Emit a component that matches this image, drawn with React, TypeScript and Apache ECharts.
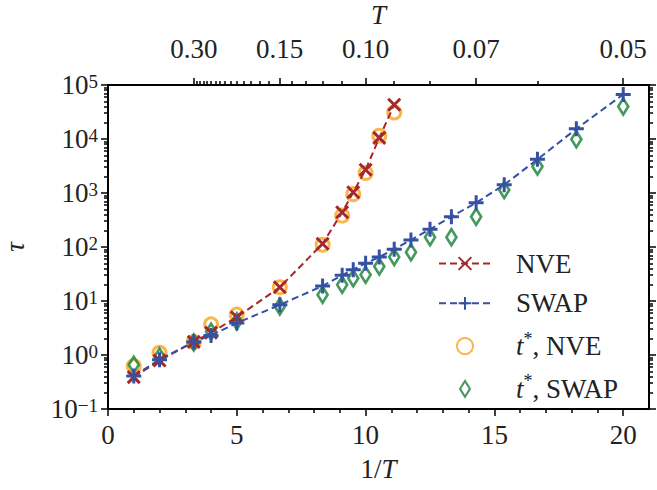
import React, { useEffect, useRef } from "react";
import * as echarts from "echarts";

// ---------- data (x = 1/T) ----------
const nveX = [1, 2, 3.33, 4, 5, 6.67, 8.33, 9.09, 9.52, 10, 10.53, 11.11];
const nveTau = [0.39, 0.79, 1.75, 2.6, 5.0, 18, 115, 440, 1030, 2700, 10500, 43000];
const nveTstar = [0.62, 1.1, 1.75, 3.7, 5.6, 18, 110, 380, 950, 2350, 11500, 31000];

const swapX = [1, 2, 3.33, 4, 5, 6.67, 8.33, 9.09, 9.52, 10, 10.53, 11.11, 11.76, 12.5, 13.33, 14.29, 15.38, 16.67, 18.18, 20];
const swapTau = [0.41, 0.82, 1.75, 2.3, 3.9, 8.5, 19, 30, 38, 50, 65, 91, 135, 213, 364, 660, 1420, 4200, 15400, 67000];
const swapTstar = [0.66, 0.94, 1.7, 2.7, 4.2, 7.9, 13, 20, 26.5, 30.5, 43.6, 65, 80, 152, 152, 364, 1140, 3090, 9900, 39800];

// ---------- ticks ----------
const xMajor = [0, 5, 10, 15, 20];
const xMinor = [1, 2, 3, 4, 6, 7, 8, 9, 11, 12, 13, 14, 16, 17, 18, 19];
const topMajorT = [0.3, 0.15, 0.1, 0.07, 0.05];
const topMinorT = [0.29, 0.28, 0.27, 0.26, 0.25, 0.24, 0.23, 0.22, 0.21, 0.2, 0.19, 0.18, 0.17, 0.16, 0.14, 0.13, 0.12, 0.11, 0.09, 0.08, 0.06];
const yMajor = [0.1, 1, 10, 100, 1000, 10000, 100000];
const yMinorMult = [2, 3, 4, 5, 6, 7, 8, 9];

const FONT = "Liberation Serif, Times New Roman, serif";
const FS = 27;
const RED = "#a5282b";
const BLUE = "#3451a3";
const ORANGE = "#f9a41e";
const GREEN = "#178035";

const X_PATH = "path://M0,0L10,10M10,0L0,10";
const PLUS_PATH = "path://M5,0L5,10M0,5L10,5";
const DIAMOND_PATH = "path://M5,0L10,8L5,16L0,8Z";

export default function App() {
  const ref = useRef<HTMLDivElement>(null);

  useEffect(() => {
    if (!ref.current) return;
    const chart = echarts.init(ref.current, undefined, { renderer: "svg" });

    const yMinor: number[] = [];
    for (let k = -1; k <= 4; k++) for (const m of yMinorMult) yMinor.push(m * Math.pow(10, k));

    const axisLine = { show: true, onZero: false, lineStyle: { color: "#000", width: 2 } };
    const tickStyle = { color: "#000", width: 1.5 };
    const labelBase = { fontFamily: FONT, fontSize: FS, color: "#222" };

    const xBase = (extra: any) => ({
      type: "value",
      min: 0,
      max: 21,
      splitLine: { show: false },
      axisLine,
      ...extra,
    });
    const yBase = (extra: any) => ({
      type: "log",
      logBase: 10,
      min: 0.1,
      max: 100000,
      splitLine: { show: false },
      axisLine,
      ...extra,
    });

    const supFmt = (v: number) => {
      const e = Math.round(Math.log10(v));
      return `{b|10}{s|${e < 0 ? "\u2212" + -e : e}}`;
    };
    const supRich = {
      b: { fontFamily: FONT, fontSize: FS, color: "#222" },
      s: { fontFamily: FONT, fontSize: 19, color: "#222", verticalAlign: "top" },
    };

    const option: any = {
      animation: false,
      backgroundColor: "#fff",
      grid: { left: 108, top: 85, width: 541, height: 324, containLabel: false, outerBoundsMode: "none" },
      xAxis: [
        xBase({
          position: "bottom",
          axisTick: { show: true, length: 7, lineStyle: tickStyle, customValues: xMajor },
          axisLabel: { ...labelBase, margin: 12, customValues: xMajor },
          name: "1/{i|T}",
          nameLocation: "middle",
          nameGap: 46,
          nameTextStyle: {
            ...labelBase,
            rich: { i: { fontFamily: FONT, fontSize: FS, color: "#222", fontStyle: "italic" } },
          },
        }),
        xBase({
          position: "bottom",
          axisTick: { show: true, length: 4, lineStyle: tickStyle, customValues: xMinor },
          axisLabel: { show: false },
        }),
        xBase({
          position: "top",
          axisTick: { show: true, length: 7, lineStyle: tickStyle, customValues: topMajorT.map((t) => 1 / t) },
          axisLabel: {
            ...labelBase,
            margin: 23,
            customValues: topMajorT.map((t) => 1 / t),
            formatter: (v: number) => (1 / v).toFixed(2),
          },
          name: "T",
          nameLocation: "middle",
          nameGap: 57,
          nameTextStyle: { ...labelBase, fontStyle: "italic" },
        }),
        xBase({
          position: "top",
          axisTick: { show: true, length: 4, lineStyle: tickStyle, customValues: topMinorT.map((t) => 1 / t) },
          axisLabel: { show: false },
        }),
      ],
      yAxis: [
        yBase({
          position: "left",
          axisTick: { show: true, length: 7, lineStyle: tickStyle, customValues: yMajor },
          axisLabel: { margin: 10, customValues: yMajor, formatter: supFmt, rich: supRich },
          name: "\u03c4",
          nameLocation: "middle",
          nameGap: 80,
          nameTextStyle: { ...labelBase, fontStyle: "italic" },
        }),
        yBase({
          position: "left",
          axisTick: { show: true, length: 4, lineStyle: tickStyle, customValues: yMinor },
          axisLabel: { show: false },
        }),
        yBase({
          position: "right",
          axisTick: { show: true, length: 7, lineStyle: tickStyle, customValues: yMajor },
          axisLabel: { show: false },
        }),
        yBase({
          position: "right",
          axisTick: { show: true, length: 4, lineStyle: tickStyle, customValues: yMinor },
          axisLabel: { show: false },
        }),
      ],
      legend: {
        orient: "vertical",
        left: 438,
        top: 250,
        padding: 0,
        itemWidth: 52,
        itemHeight: 16,
        itemGap: 12.8,
        selectedMode: false,
        data: ["NVE", "SWAP", "t*, NVE", "t*, SWAP"],
        formatter: (name: string) =>
          name.startsWith("t*") ? `{i|t}{s|*}{n|${name.slice(2)}}` : `{n|${name}}`,
        textStyle: {
          ...labelBase,
          padding: [0, 0, 0, 20],
          rich: {
            n: { fontFamily: FONT, fontSize: FS, color: "#222", lineHeight: 33 },
            i: { fontFamily: FONT, fontSize: FS, color: "#222", fontStyle: "italic", lineHeight: 33 },
            s: { fontFamily: FONT, fontSize: 18, color: "#222", verticalAlign: "top", lineHeight: 33 },
          },
        },
      },
      series: [
        {
          name: "t*, NVE",
          type: "scatter",
          data: nveX.map((x, i) => [x, nveTstar[i]]),
          symbol: "circle",
          symbolSize: 13,
          itemStyle: { color: "rgba(0,0,0,0)", borderColor: ORANGE, borderWidth: 3 },
        },
        {
          name: "t*, SWAP",
          type: "scatter",
          data: swapX.map((x, i) => [x, swapTstar[i]]),
          symbol: DIAMOND_PATH,
          symbolSize: [10, 16],
          itemStyle: { color: "rgba(0,0,0,0)", borderColor: GREEN, borderWidth: 2.8 },
        },
        {
          name: "NVE",
          type: "line",
          data: nveX.map((x, i) => [x, nveTau[i]]),
          symbol: X_PATH,
          symbolSize: 12,
          showSymbol: true,
          color: RED,
          itemStyle: { color: RED, borderColor: RED, borderWidth: 3 },
          lineStyle: { color: RED, width: 2, type: [7, 4] },
        },
        {
          name: "SWAP",
          type: "line",
          data: swapX.map((x, i) => [x, swapTau[i]]),
          symbol: PLUS_PATH,
          symbolSize: 15,
          showSymbol: true,
          color: BLUE,
          itemStyle: { color: BLUE, borderColor: BLUE, borderWidth: 3 },
          lineStyle: { color: BLUE, width: 2, type: [7, 4] },
        },
      ],
    };

    chart.setOption(option);
    return () => chart.dispose();
  }, []);

  return (
    <div
      ref={ref}
      style={{ position: "fixed", left: 0, top: 0, width: 657, height: 490, background: "#fff" }}
    />
  );
}
